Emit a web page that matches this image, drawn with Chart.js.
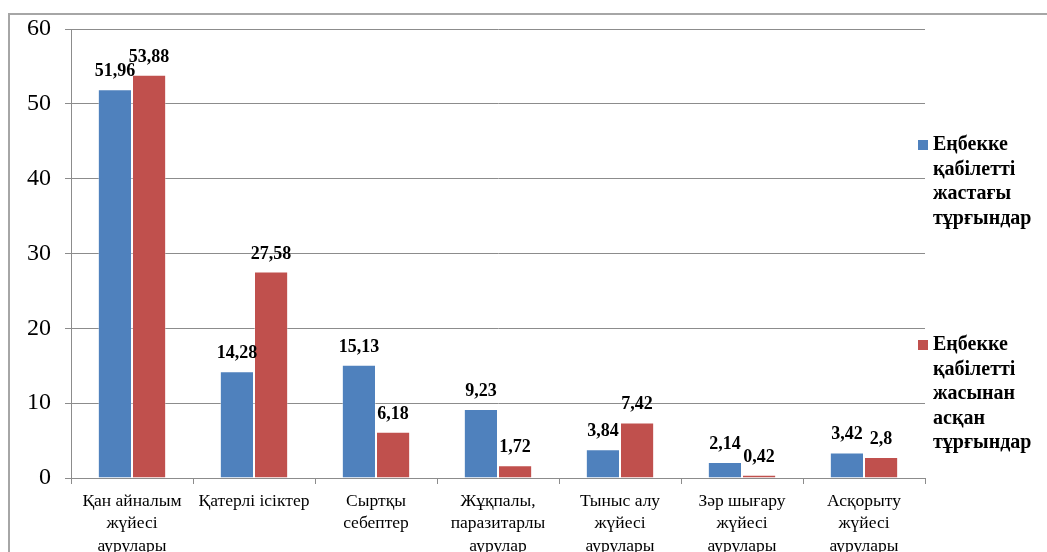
<!DOCTYPE html>
<html><head><meta charset="utf-8">
<script src="https://cdn.jsdelivr.net/npm/chart.js@4/dist/chart.umd.min.js"></script>
<style>html,body{margin:0;padding:0;background:#fff;overflow:hidden}#wrap{position:relative;width:1047px;height:552px}canvas{display:block}</style>
</head><body><div id="wrap"><canvas id="c" width="1047" height="552" style="width:1047px;height:552px"></canvas></div>
<script>
const categories = [
  ["Қан айналым", "жүйесі", "аурулары"],
  "Қатерлі ісіктер",
  ["Сыртқы", "себептер"],
  ["Жұқпалы,", "паразитарлы", "аурулар"],
  ["Тыныс алу", "жүйесі", "аурулары"],
  ["Зәр шығару", "жүйесі", "аурулары"],
  ["Асқорыту", "жүйесі", "аурулары"]
];
const seriesNames = [
  ["Еңбекке", "қабілетті", "жастағы", "тұрғындар"],
  ["Еңбекке", "қабілетті", "жасынан", "асқан", "тұрғындар"]
];
const workingAge = [51.96, 14.28, 15.13, 9.23, 3.84, 2.14, 3.42];
const overWorkingAge = [53.88, 27.58, 6.18, 1.72, 7.42, 0.42, 2.8];
const yTicks = [0, 10, 20, 30, 40, 50, 60];
const seriesColors = ["#4F81BD", "#C0504D"];

const SERIF = "'Liberation Serif', 'Times New Roman', serif";
const GRID = "#8c8c8c";

const framePlugin = {
  id: "frame",
  beforeDraw(chart) {
    const ctx = chart.ctx;
    ctx.save();
    ctx.fillStyle = "#fff";
    ctx.fillRect(0, 0, chart.width, chart.height);
    ctx.strokeStyle = "#a6a6a6";
    ctx.lineWidth = 2;
    ctx.beginPath();
    ctx.moveTo(9, chart.height);
    ctx.lineTo(9, 14);
    ctx.lineTo(chart.width, 14);
    ctx.stroke();
    ctx.restore();
  }
};

const valueLabels = {
  id: "valueLabels",
  afterDatasetsDraw(chart) {
    const ctx = chart.ctx;
    ctx.save();
    ctx.font = "bold 18px " + SERIF;
    ctx.fillStyle = "#000";
    ctx.textAlign = "center";
    ctx.textBaseline = "alphabetic";
    chart.data.datasets.forEach((ds, i) => {
      const meta = chart.getDatasetMeta(i);
      meta.data.forEach((el, j) => {
        const txt = String(ds.data[j]).replace(".", ",");
        ctx.fillText(txt, el.x, el.y - 13);
      });
    });
    ctx.restore();
  }
};

const sideLegend = {
  id: "sideLegend",
  afterDraw(chart) {
    const ctx = chart.ctx;
    const starts = [145, 345];
    ctx.save();
    ctx.font = "bold 20px " + SERIF;
    ctx.textBaseline = "middle";
    ctx.textAlign = "left";
    chart.data.datasets.forEach((ds, i) => {
      const y0 = starts[i];
      ctx.fillStyle = ds.backgroundColor;
      ctx.fillRect(918, y0 - 5, 10, 10);
      ctx.fillStyle = "#000";
      seriesNames[i].forEach((line, k) => {
        ctx.fillText(line, 933, y0 + k * 24.5);
      });
    });
    ctx.restore();
  }
};

new Chart(document.getElementById("c"), {
  type: "bar",
  data: {
    labels: categories,
    datasets: [
      { label: seriesNames[0].join(" "), data: workingAge, backgroundColor: seriesColors[0], borderColor: "rgba(255,255,255,0.35)", borderWidth: 1 },
      { label: seriesNames[1].join(" "), data: overWorkingAge, backgroundColor: seriesColors[1], borderColor: "rgba(255,255,255,0.35)", borderWidth: 1 }
    ]
  },
  options: {
    responsive: false,
    animation: false,
    devicePixelRatio: 1,
    layout: { padding: { left: 0, right: 122, top: 29, bottom: 0 } },
    datasets: { bar: { categoryPercentage: 0.56, barPercentage: 1 } },
    plugins: { legend: { display: false }, tooltip: { enabled: false } },
    scales: {
      x: {
        grid: { drawOnChartArea: false, drawTicks: true, tickLength: 6, color: GRID, offset: true },
        border: { color: GRID, width: 1 },
        ticks: { color: "#000", font: { family: SERIF, size: 17.5, lineHeight: 1.28 }, padding: 6, maxRotation: 0, autoSkip: false },
        afterFit(s) { s.height = 74; }
      },
      y: {
        min: 0, max: 60,
        afterBuildTicks(s) { s.ticks = yTicks.map(v => ({ value: v })); },
        grid: { color: GRID, tickLength: 6 },
        border: { color: GRID, width: 1 },
        ticks: { color: "#000", font: { family: SERIF, size: 24 }, padding: 14 },
        afterFit(s) { s.width = 71; }
      }
    }
  },
  plugins: [framePlugin, valueLabels, sideLegend]
});
</script>
</body></html>
